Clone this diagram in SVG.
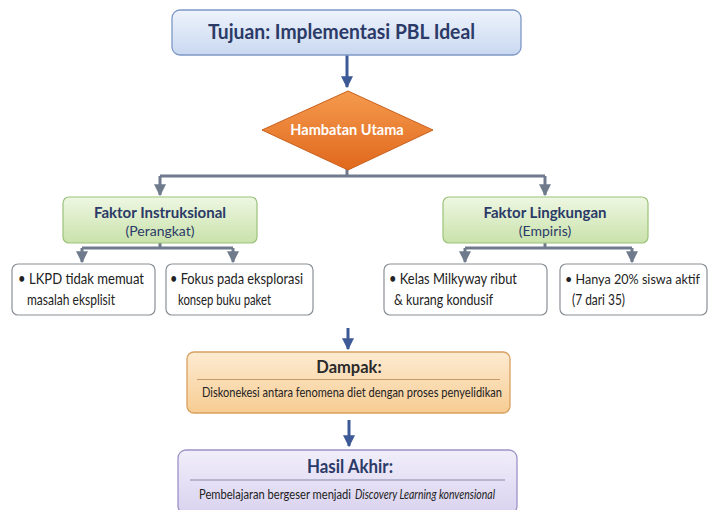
<svg xmlns="http://www.w3.org/2000/svg" width="710" height="510" viewBox="0 0 710 510">
<style>
text{font-family:Lato,"Open Sans","Liberation Sans",sans-serif}
.navy{fill:#2b3a67;font-weight:bold}
.sub{fill:#2b3a67}
.item{fill:#222;font-size:15px}
.wbox{fill:#fff;stroke:#8a8f96;stroke-width:1.2}
.gline{stroke:#6f7b8d;stroke-width:3;fill:none}
.bline{stroke:#3d5a96;stroke-width:3;fill:none}
</style>
<defs>
<linearGradient id="gBlue" x1="0" y1="0" x2="0" y2="1"><stop offset="0" stop-color="#eef3fc"/><stop offset="1" stop-color="#c9d8f0"/></linearGradient>
<linearGradient id="gOrange" x1="0" y1="0" x2="0" y2="1"><stop offset="0" stop-color="#f59a4e"/><stop offset="1" stop-color="#e0681c"/></linearGradient>
<linearGradient id="gGreen" x1="0" y1="0" x2="0" y2="1"><stop offset="0" stop-color="#eef7e2"/><stop offset="1" stop-color="#c9e2ab"/></linearGradient>
<linearGradient id="gPeach" x1="0" y1="0" x2="0" y2="1"><stop offset="0" stop-color="#fdebd2"/><stop offset="1" stop-color="#f7cc92"/></linearGradient>
<linearGradient id="gLav" x1="0" y1="0" x2="0" y2="1"><stop offset="0" stop-color="#f1eefa"/><stop offset="1" stop-color="#d9d2ef"/></linearGradient>
<marker id="aGrey" viewBox="0 0 10 10" refX="9" refY="5" markerWidth="4" markerHeight="4" orient="auto" markerUnits="strokeWidth"><path d="M0,0 L10,5 L0,10 z" fill="#6f7b8d"/></marker>
<marker id="aBlue" viewBox="0 0 10 10" refX="9" refY="5" markerWidth="4" markerHeight="4" orient="auto" markerUnits="strokeWidth"><path d="M0,0 L10,5 L0,10 z" fill="#3d5a96"/></marker>
</defs>
<rect width="710" height="510" fill="#fff"/>

<g id="connectors">
<path class="bline" d="M347,55 V87" marker-end="url(#aBlue)"/>
<path class="gline" d="M347,168 V176 M160,176 H545"/>
<path class="gline" d="M160,176 V195" marker-end="url(#aGrey)"/>
<path class="gline" d="M545,176 V195" marker-end="url(#aGrey)"/>
<path class="gline" d="M160,243 V248 M82,248 H233"/>
<path class="gline" d="M82,248 V262" marker-end="url(#aGrey)"/>
<path class="gline" d="M233,248 V262" marker-end="url(#aGrey)"/>
<path class="gline" d="M545,243 V248 M465,248 H632"/>
<path class="gline" d="M465,248 V262" marker-end="url(#aGrey)"/>
<path class="gline" d="M632,248 V262" marker-end="url(#aGrey)"/>
<path class="bline" d="M348,328 V349" marker-end="url(#aBlue)"/>
<path class="bline" d="M349,420 V446" marker-end="url(#aBlue)"/>
</g>

<g id="tujuan">
<rect x="172" y="10" width="349" height="45" rx="8" fill="url(#gBlue)" stroke="#7d98c6" stroke-width="1.3"/>
<text x="208" y="39" class="navy" font-size="21" textLength="267" lengthAdjust="spacingAndGlyphs">Tujuan: Implementasi PBL Ideal</text>
</g>

<g id="hambatan">
<path d="M348,91 L433,130 L348,170 L262,130 Z" fill="url(#gOrange)" stroke="#c9601c" stroke-width="1" stroke-linejoin="round"/>
<text x="347" y="135" text-anchor="middle" fill="#fff" font-weight="bold" font-size="14.5">Hambatan Utama</text>
</g>

<g id="instruksional">
<rect x="63" y="197" width="194" height="46" rx="6" fill="url(#gGreen)" stroke="#9cc27a" stroke-width="1.2"/>
<text x="160" y="218" text-anchor="middle" class="navy" font-size="15">Faktor Instruksional</text>
<text x="160" y="236" text-anchor="middle" class="sub" font-size="14">(Perangkat)</text>
</g>

<g id="lingkungan">
<rect x="443" y="197" width="205" height="46" rx="6" fill="url(#gGreen)" stroke="#9cc27a" stroke-width="1.2"/>
<text x="545" y="218" text-anchor="middle" class="navy" font-size="15">Faktor Lingkungan</text>
<text x="545" y="236" text-anchor="middle" class="sub" font-size="14">(Empiris)</text>
</g>

<g id="lkpd">
<rect class="wbox" x="12" y="264" width="143" height="51" rx="6"/>
<text class="item" x="18" y="284" textLength="126" lengthAdjust="spacingAndGlyphs">• LKPD tidak memuat</text>
<text class="item" x="27" y="305" textLength="88" lengthAdjust="spacingAndGlyphs">masalah eksplisit</text>
</g>

<g id="fokus">
<rect class="wbox" x="166" y="264" width="147" height="51" rx="6"/>
<text class="item" x="170" y="284" textLength="133" lengthAdjust="spacingAndGlyphs">• Fokus pada eksplorasi</text>
<text class="item" x="178" y="305" textLength="93" lengthAdjust="spacingAndGlyphs">konsep buku paket</text>
</g>

<g id="kelas">
<rect class="wbox" x="384" y="264" width="163" height="51" rx="6"/>
<text class="item" x="389" y="284" textLength="128" lengthAdjust="spacingAndGlyphs">• Kelas Milkyway ribut</text>
<text class="item" x="394" y="305" textLength="99" lengthAdjust="spacingAndGlyphs">&amp; kurang kondusif</text>
</g>

<g id="siswa">
<rect class="wbox" x="560" y="264" width="147" height="51" rx="6"/>
<text class="item" x="565" y="284" font-size="13" style="font-size:13px" textLength="135" lengthAdjust="spacingAndGlyphs">• Hanya 20% siswa aktif</text>
<text class="item" x="572" y="305" textLength="53" lengthAdjust="spacingAndGlyphs">(7 dari 35)</text>
</g>

<g id="dampak">
<rect x="187" y="352" width="323" height="61" rx="7" fill="url(#gPeach)" stroke="#d9a060" stroke-width="1.3"/>
<text x="349" y="373" text-anchor="middle" fill="#2a2a2a" font-weight="bold" font-size="16.5">Dampak:</text>
<line x1="197" y1="379.5" x2="500" y2="379.5" stroke="#c79a6a" stroke-width="1"/>
<text x="202" y="397" fill="#222" font-size="12.5" textLength="300" lengthAdjust="spacingAndGlyphs">Diskonekesi antara fenomena diet dengan proses penyelidikan</text>
</g>

<g id="hasil">
<rect x="178" y="450" width="339" height="64" rx="8" fill="url(#gLav)" stroke="#9d92c6" stroke-width="1.3"/>
<text x="307" y="473" class="navy" font-size="19" textLength="86" lengthAdjust="spacingAndGlyphs">Hasil Akhir:</text>
<line x1="190" y1="480" x2="505" y2="480" stroke="#8a88a8" stroke-width="1"/>
<text x="199" y="499" fill="#222" font-size="12.5" textLength="152" lengthAdjust="spacingAndGlyphs">Pembelajaran bergeser menjadi</text>
<text x="355" y="499" fill="#222" font-size="12.5" font-style="italic" textLength="140" lengthAdjust="spacingAndGlyphs">Discovery Learning konvensional</text>
</g>
</svg>
